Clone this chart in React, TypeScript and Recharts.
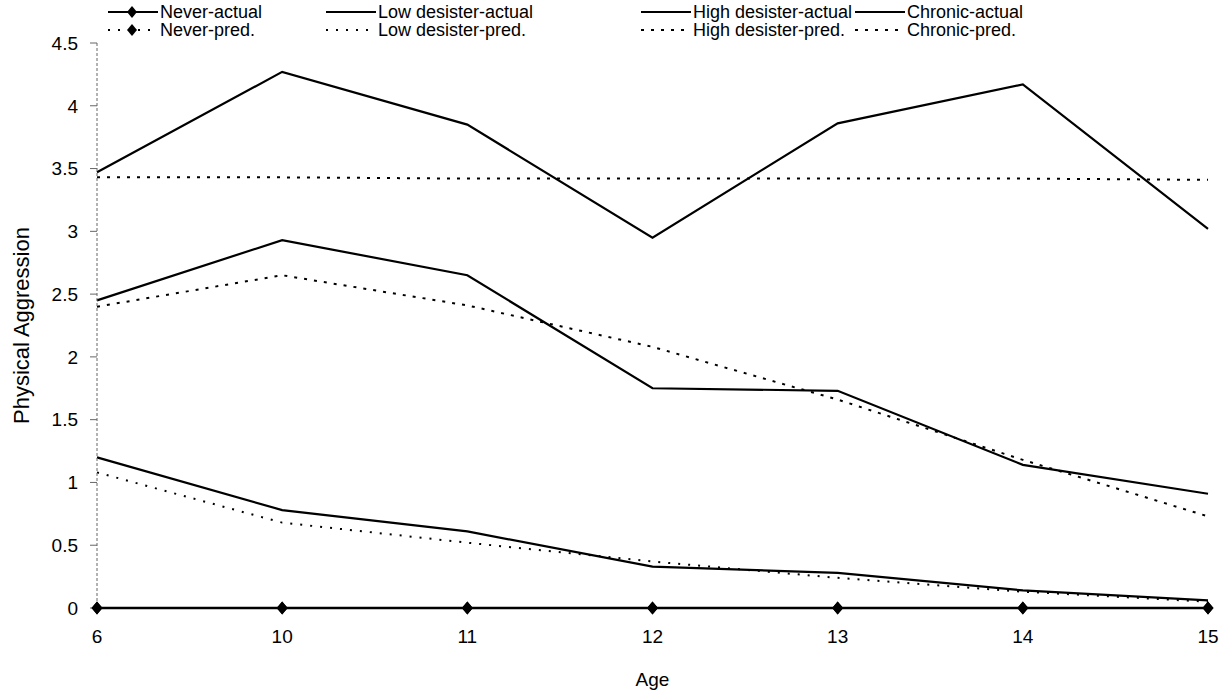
import React from 'react';
import { LineChart, Line, XAxis, YAxis, Legend } from 'recharts';

const ages = ['6', '10', '11', '12', '13', '14', '15'];

const neverActual = [0, 0, 0, 0, 0, 0, 0];
const neverPred = [0, 0, 0, 0, 0, 0, 0];
const lowActual = [1.2, 0.78, 0.61, 0.33, 0.28, 0.14, 0.06];
const lowPred = [1.08, 0.68, 0.52, 0.37, 0.24, 0.13, 0.05];
const highActual = [2.45, 2.93, 2.65, 1.75, 1.73, 1.14, 0.91];
const highPred = [2.4, 2.65, 2.41, 2.08, 1.66, 1.18, 0.73];
const chronicActual = [3.47, 4.27, 3.85, 2.95, 3.86, 4.17, 3.02];
const chronicPred = [3.43, 3.43, 3.42, 3.42, 3.42, 3.42, 3.41];

const yTicks = [0, 0.5, 1, 1.5, 2, 2.5, 3, 3.5, 4, 4.5];

const data = ages.map((age, i) => ({
    age,
    neverActual: neverActual[i],
    neverPred: neverPred[i],
    lowActual: lowActual[i],
    lowPred: lowPred[i],
    highActual: highActual[i],
    highPred: highPred[i],
    chronicActual: chronicActual[i],
    chronicPred: chronicPred[i],
}));

const FONT = '"Liberation Sans", Arial, sans-serif';
const DOTTED = '2 8';
const DASHED = '3 7';

// legend entries, row by row like the original Excel legend
const legendRows = [
    [
        { label: 'Never-actual', dash: undefined, diamond: true },
        { label: 'Low desister-actual', dash: undefined, diamond: false },
        { label: 'High desister-actual', dash: undefined, diamond: false },
        { label: 'Chronic-actual', dash: undefined, diamond: false },
    ],
    [
        { label: 'Never-pred.', dash: DOTTED, diamond: true },
        { label: 'Low desister-pred.', dash: DOTTED, diamond: false },
        { label: 'High desister-pred.', dash: DASHED, diamond: false },
        { label: 'Chronic-pred.', dash: DASHED, diamond: false },
    ],
];
const legendCols = [108, 326, 641, 855];

const Diamond = (props: any) => {
    const { cx, cy } = props;
    if (cx == null || cy == null) return null;
    return <path d={`M${cx},${cy - 6.5} L${cx + 5.5},${cy} L${cx},${cy + 6.5} L${cx - 5.5},${cy} Z`} fill="#000" />;
};

const renderLegend = () => (
    <div style={{ position: 'relative', width: 1229, height: 40, fontFamily: FONT, fontSize: 18, color: '#000' }}>
        {legendRows.map((row, r) =>
            row.map((item, c) => (
                <div
                    key={`${r}-${c}`}
                    style={{ position: 'absolute', left: legendCols[c], top: r * 18 + 3, height: 18, display: 'flex', alignItems: 'center', whiteSpace: 'nowrap' }}
                >
                    <svg width={50} height={18}>
                        <line x1={0} y1={9} x2={50} y2={9} stroke="#000" strokeWidth={2} strokeDasharray={item.dash} />
                        {item.diamond && <path d="M24,3 L29,9 L24,15 L19,9 Z" fill="#000" />}
                    </svg>
                    <span style={{ marginLeft: 2, lineHeight: '18px', height: 18 }}>{item.label}</span>
                </div>
            ))
        )}
    </div>
);

export default function App() {
    return (
        <div style={{ position: 'absolute', top: 0, left: 0, width: 1229, height: 692, background: '#fff' }}>
            <LineChart width={1229} height={692} data={data} margin={{ top: 43, right: 21, left: 0, bottom: 4 }}>
                <XAxis
                    dataKey="age"
                    axisLine={false}
                    tickLine={false}
                    tickSize={6}
                    tickMargin={16}
                    height={80}
                    tick={{ fill: '#000', fontSize: 19, fontFamily: FONT }}
                    label={{ value: 'Age', position: 'insideBottom', offset: 2, fill: '#000', fontSize: 19, fontFamily: FONT }}
                />
                <YAxis
                    domain={[0, 4.5]}
                    ticks={yTicks}
                    width={97}
                    interval={0}
                    axisLine={{ stroke: '#666', strokeDasharray: '3 2' }}
                    tickLine={{ stroke: '#666' }}
                    tickSize={7}
                    tickMargin={12}
                    tick={{ fill: '#000', fontSize: 19, fontFamily: FONT }}
                    label={{ value: 'Physical Aggression', angle: -90, position: 'center', dx: -27, fill: '#000', fontSize: 22, fontFamily: FONT }}
                />
                <Legend
                    layout="horizontal"
                    verticalAlign="middle"
                    width={1229}
                    wrapperStyle={{ top: 0, left: 0 }}
                    content={renderLegend}
                />
                <Line dataKey="chronicPred" stroke="#000" strokeWidth={2} strokeDasharray={DASHED} dot={false} isAnimationActive={false} />
                <Line dataKey="chronicActual" stroke="#000" strokeWidth={2.2} dot={false} isAnimationActive={false} />
                <Line dataKey="highPred" stroke="#000" strokeWidth={2} strokeDasharray={DASHED} dot={false} isAnimationActive={false} />
                <Line dataKey="highActual" stroke="#000" strokeWidth={2.2} dot={false} isAnimationActive={false} />
                <Line dataKey="lowPred" stroke="#000" strokeWidth={2} strokeDasharray={DOTTED} dot={false} isAnimationActive={false} />
                <Line dataKey="lowActual" stroke="#000" strokeWidth={2.2} dot={false} isAnimationActive={false} />
                <Line dataKey="neverPred" stroke="#000" strokeWidth={2} strokeDasharray={DOTTED} dot={<Diamond />} isAnimationActive={false} />
                <Line dataKey="neverActual" stroke="#000" strokeWidth={2.5} dot={<Diamond />} isAnimationActive={false} />
            </LineChart>
        </div>
    );
}
